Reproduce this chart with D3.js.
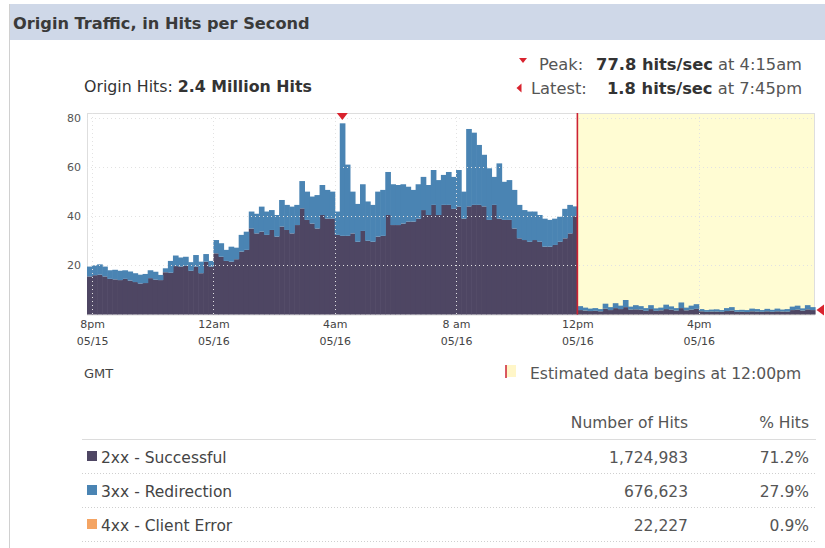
<!DOCTYPE html>
<html>
<head>
<meta charset="utf-8">
<script src="https://cdn.jsdelivr.net/npm/d3@7"></script>
<style>
  body { margin: 0; background: #fff; }
  svg text { font-family: "DejaVu Sans", Verdana, sans-serif; }
</style>
</head>
<body>
<div id="origin-traffic"></div>
<script>

// 10 minute bins, first one starts 7:50pm 05/15 (GMT)
var binStart   = new Date(2011, 4, 15, 19, 50);
var binMinutes = 10;

var hits2xx = [
  15.5, 16, 16.2, 15.5, 14.5, 14.3, 14, 14.5, 13.8, 13.2, 12.6, 12.8,
  14.8, 14.2, 14, 17.2, 17, 19.7, 19.5, 19.8, 17.8, 19.5, 16.8, 21.5,
  19.5, 24.9, 23.5, 21.8, 21.5, 22.5, 25.6, 26.3, 35, 33, 33.7, 32.4,
  34.4, 31.7, 35.8, 34.4, 33, 36.4, 43.2, 38.5, 37, 35, 40.5, 39,
  39, 32.4, 32, 32, 33, 29.6, 34, 30, 29.6, 31.7, 32, 40.5,
  36.4, 36.4, 37, 37.8, 37.8, 39, 42.5, 40.5, 44.6, 40.5, 44.6, 44.6,
  43, 43.9, 39, 44, 44.6, 44.6, 44, 38.5, 44.6, 39, 38.5, 38.5,
  35, 31, 30.3, 29.6, 30.3, 29.6, 27.6, 27.6, 28.3, 29.6, 31, 33,
  40, 1.8, 1.6, 1.4, 1.5, 1.3, 2.4, 1.8, 2.6, 2.2, 3, 2,
  2.1, 2, 1.5, 2.2, 1.5, 1.7, 2.2, 2, 1.6, 2.6, 1.7, 2,
  2.3, 1.3, 1.1, 1.2, 1.2, 1.1, 1.4, 1.6, 1.1, 1.1, 1.0, 1.3,
  1.2, 1.1, 1.3, 1.1, 1.3, 1.2, 1.2, 1.8, 2.0, 1.6, 2.1, 1.8
];

var hits3xx = [
  4.0, 4.0, 4.2, 4.0, 3.5, 3.9, 3.8, 3.5, 3.7, 3.6, 3.6, 3.7,
  3.2, 3.2, 2.1, 1.6, 4.8, 4.3, 3.7, 3.7, 3.5, 4.7, 4.7, 3.1,
  2.3, 5.4, 5.5, 4.5, 6.1, 4.7, 6.8, 7.4, 6.9, 8.0, 10.2, 9.5,
  8.1, 8.8, 10.8, 10.2, 10.9, 8.2, 11.1, 11.5, 11, 13.6, 12.2, 11.7,
  11, 9.5, 45.8, 29, 17, 15.4, 19, 16, 15, 18.3, 18.7, 17.5,
  16.6, 16.3, 16, 14.2, 12.9, 14, 13.5, 12.2, 14.2, 14.2, 12.2, 13.4,
  13, 14.9, 11, 31.5, 29.4, 24.4, 21, 21, 11.4, 22.5, 15.5, 16.2,
  15.7, 13.6, 12.2, 12.3, 11.6, 10.9, 11.4, 10.9, 10.7, 10.2, 12, 11.6,
  4, 1.6, 1.2, 1.0, 1.1, 0.9, 2.0, 1.2, 2.0, 1.4, 2.9, 1.2,
  1.7, 1.4, 1.1, 1.6, 1.0, 1.1, 1.8, 1.3, 1.0, 2.3, 1.1, 1.6,
  1.9, 0.9, 0.7, 0.8, 0.9, 0.7, 1.2, 1.4, 0.7, 0.8, 0.8, 1.1,
  1.0, 0.7, 1.0, 0.8, 1.1, 0.8, 1.0, 1.4, 1.6, 0.9, 1.7, 1.2
];

var estimatedFrom = new Date(2011, 4, 16, 12, 0);

var tickTimes = [
  new Date(2011, 4, 15, 20, 0), new Date(2011, 4, 16, 0, 0), new Date(2011, 4, 16, 4, 0),
  new Date(2011, 4, 16, 8, 0), new Date(2011, 4, 16, 12, 0), new Date(2011, 4, 16, 16, 0)
];
var tickHours = ['8pm', '12am', '4am', '8 am', '12pm', '4pm'];
var tickDates = ['05/15', '05/16', '05/16', '05/16', '05/16', '05/16'];
var yTicks    = [20, 40, 60, 80];

var peakValue   = 77.8;
var peakLabel   = '77.8 hits/sec';
var peakTime    = '4:15am';
var latestValue = 1.8;
var latestLabel = '1.8 hits/sec';
var latestTime  = '7:45pm';
var totalLabel  = '2.4 Million Hits';

var statusNames  = ['2xx - Successful', '3xx - Redirection', '4xx - Client Error'];
var statusHits   = [1724983, 676623, 22227];
var statusPct    = [71.2, 27.9, 0.9];
var statusColors = ['#4e4663', '#4a84b3', '#f4a463'];

var W = 825, H = 548;
var plot = {left: 87, top: 113, right: 815, bottom: 314.5};

var svg = d3.select('#origin-traffic').append('svg')
  .attr('width', W)
  .attr('height', H);

// panel + header band
svg.append('rect')
  .attr('x', 9).attr('y', 4)
  .attr('width', W - 9).attr('height', 36)
  .attr('fill', '#cfd8e8');

svg.append('line')
  .attr('x1', 9.5).attr('x2', 9.5)
  .attr('y1', 4).attr('y2', H)
  .attr('stroke', '#d0d0d0');

svg.append('text')
  .attr('x', 13).attr('y', 29)
  .attr('font-size', 16.2)
  .attr('font-weight', 'bold')
  .attr('fill', '#3a3a3a')
  .text('Origin Traffic, in Hits per Second');

var totalText = svg.append('text')
  .attr('x', 84).attr('y', 92)
  .attr('font-size', 15.8)
  .attr('fill', '#333');
totalText.append('tspan').text('Origin Hits: ');
totalText.append('tspan').attr('font-weight', 'bold').text(totalLabel);

// peak / latest summary
var markerRed = '#d9232e';

svg.append('path')
  .attr('d', 'M519,58L527,58L523,63Z')
  .attr('fill', markerRed);
svg.append('text')
  .attr('x', 539).attr('y', 70)
  .attr('font-size', 16.3).attr('fill', '#555')
  .text('Peak:');
var peakText = svg.append('text')
  .attr('x', 802).attr('y', 70)
  .attr('font-size', 16.3)
  .attr('text-anchor', 'end')
  .attr('fill', '#555');
peakText.append('tspan').attr('font-weight', 'bold').attr('fill', '#333').text(peakLabel);
peakText.append('tspan').text(' at ' + peakTime);

svg.append('path')
  .attr('d', 'M516.5,88L521.5,83.5L521.5,92.5Z')
  .attr('fill', markerRed);
svg.append('text')
  .attr('x', 531).attr('y', 94)
  .attr('font-size', 16.3).attr('fill', '#555')
  .text('Latest:');
var latestText = svg.append('text')
  .attr('x', 802).attr('y', 94)
  .attr('font-size', 16.3)
  .attr('text-anchor', 'end')
  .attr('fill', '#555');
latestText.append('tspan').attr('font-weight', 'bold').attr('fill', '#333').text(latestLabel);
latestText.append('tspan').text(' at ' + latestTime);

// Scales

var bins = hits2xx.map(function(d, i) {
  return {
    time: d3.timeMinute.offset(binStart, i * binMinutes),
    s2xx: d,
    s3xx: hits3xx[i]
  };
});

var binEnd = d3.timeMinute.offset(binStart, bins.length * binMinutes);

var x = d3.scaleTime()
  .domain([binStart, binEnd])
  .range([plot.left, plot.right]);

var y = d3.scaleLinear()
  .domain([0, 82])
  .range([plot.bottom, plot.top]);

var g = svg.append('g');

// estimated area
g.append('rect')
  .attr('x', x(estimatedFrom))
  .attr('y', plot.top)
  .attr('width', plot.right - x(estimatedFrom))
  .attr('height', plot.bottom - plot.top)
  .attr('fill', '#fffcd3');

g.append('rect')
  .attr('x', plot.left + 0.5)
  .attr('y', plot.top + 0.5)
  .attr('width', plot.right - plot.left - 1)
  .attr('height', plot.bottom - plot.top)
  .attr('fill', 'none')
  .attr('stroke', '#dedede');

var stack = d3.stack().keys(['s2xx', 's3xx']);
var layers = stack(bins);

g.selectAll('.layer')
  .data(layers)
.enter().append('g')
  .attr('class', 'layer')
  .attr('fill', function(d, i) { return statusColors[i]; })
.selectAll('rect')
  .data(function(d) { return d; })
.enter().append('rect')
  .attr('x', function(d) { return x(d.data.time); })
  .attr('width', function(d) {
    return x(d3.timeMinute.offset(d.data.time, binMinutes)) - x(d.data.time) + 0.6;
  })
  .attr('y', function(d) { return y(d[1]); })
  .attr('height', function(d) { return y(d[0]) - y(d[1]); });

// dotted grid over the bars
var gridColor = '#e2e2e2';

g.selectAll('.hgrid')
  .data(yTicks)
.enter().append('line')
  .attr('class', 'hgrid')
  .attr('x1', plot.left)
  .attr('x2', plot.right)
  .attr('y1', function(d) { return Math.round(y(d)) + 0.5; })
  .attr('y2', function(d) { return Math.round(y(d)) + 0.5; })
  .attr('stroke', gridColor)
  .attr('stroke-dasharray', '1,3');

g.selectAll('.vgrid')
  .data(tickTimes)
.enter().append('line')
  .attr('class', 'vgrid')
  .attr('x1', function(d) { return Math.round(x(d)) + 0.5; })
  .attr('x2', function(d) { return Math.round(x(d)) + 0.5; })
  .attr('y1', plot.top)
  .attr('y2', plot.bottom)
  .attr('stroke', gridColor)
  .attr('stroke-dasharray', '1,3');

g.append('line')
  .attr('x1', x(estimatedFrom))
  .attr('x2', x(estimatedFrom))
  .attr('y1', plot.top)
  .attr('y2', plot.bottom)
  .attr('stroke', '#cc2233')
  .attr('stroke-width', 1.6);

// Axes

var xAxis = svg.append('g')
  .attr('class', 'x axis')
  .attr('transform', 'translate(0,' + plot.bottom + ')')
  .call(d3.axisBottom(x).tickValues(tickTimes).tickSize(0).tickFormat(''));

xAxis.select('.domain').remove();
xAxis.selectAll('.tick text').remove();
xAxis.selectAll('.tick').append('text')
  .attr('fill', '#444')
  .attr('font-size', 11)
  .attr('text-anchor', 'middle')
  .each(function(d, i) {
    var t = d3.select(this);
    t.append('tspan').attr('x', 0).attr('y', 13).text(tickHours[i]);
    t.append('tspan').attr('x', 0).attr('y', 30).text(tickDates[i]);
  });

var yAxis = svg.append('g')
  .attr('class', 'y axis')
  .attr('transform', 'translate(' + (plot.left - 3) + ',0)')
  .call(d3.axisLeft(y).tickValues(yTicks).tickSize(0));

yAxis.select('.domain').remove();
yAxis.selectAll('.tick text')
  .attr('fill', '#555')
  .attr('font-size', 11)
  .attr('font-family', '"DejaVu Sans", Verdana, sans-serif');

// peak + latest markers on the plot
var peakBin = bins[d3.maxIndex(bins, function(d) { return d.s2xx + d.s3xx; })];
var peakX = x(d3.timeMinute.offset(peakBin.time, binMinutes / 2));

svg.append('path')
  .attr('d', 'M' + (peakX - 5.5) + ',' + plot.top + 'L' + (peakX + 5.5) + ',' + plot.top +
             'L' + peakX + ',' + (plot.top + 7) + 'Z')
  .attr('fill', markerRed);

var latestY = y(latestValue);
svg.append('path')
  .attr('d', 'M' + (plot.right + 1.5) + ',' + latestY + 'L' + (plot.right + 9) + ',' + (latestY - 5.5) +
             'L' + (plot.right + 9) + ',' + (latestY + 5.5) + 'Z')
  .attr('fill', markerRed);

// under the chart
svg.append('text')
  .attr('x', 84).attr('y', 378)
  .attr('font-size', 13)
  .attr('fill', '#444')
  .text('GMT');

svg.append('rect')
  .attr('x', 506).attr('y', 365)
  .attr('width', 10).attr('height', 12)
  .attr('fill', '#fff6c8');
svg.append('line')
  .attr('x1', 506).attr('x2', 506)
  .attr('y1', 365).attr('y2', 378)
  .attr('stroke', '#cc2233')
  .attr('stroke-width', 1.5);
svg.append('text')
  .attr('x', 530).attr('y', 379)
  .attr('font-size', 15.6)
  .attr('fill', '#555')
  .text('Estimated data begins at ' + '12:00pm');

// status table
var colHits = 688, colPct = 809, rowTop = 457, rowStep = 34;

svg.append('text')
  .attr('x', colHits).attr('y', 428)
  .attr('text-anchor', 'end')
  .attr('font-size', 15.5).attr('fill', '#555')
  .text('Number of Hits');
svg.append('text')
  .attr('x', colPct).attr('y', 428)
  .attr('text-anchor', 'end')
  .attr('font-size', 15.5).attr('fill', '#555')
  .text('% Hits');

svg.append('line')
  .attr('x1', 82).attr('x2', 816)
  .attr('y1', 439.5).attr('y2', 439.5)
  .attr('stroke', '#dcdcdc');

var rows = svg.selectAll('.status-row')
  .data(statusNames)
.enter().append('g')
  .attr('class', 'status-row')
  .attr('transform', function(d, i) { return 'translate(0,' + (rowTop + i * rowStep) + ')'; });

rows.append('rect')
  .attr('x', 87).attr('y', -6)
  .attr('width', 10).attr('height', 10)
  .attr('fill', function(d, i) { return statusColors[i]; });

rows.append('text')
  .attr('x', 101).attr('y', 5.5)
  .attr('font-size', 15.5).attr('fill', '#444')
  .text(function(d) { return d; });

rows.append('text')
  .attr('x', colHits).attr('y', 5.5)
  .attr('text-anchor', 'end')
  .attr('font-size', 15.5).attr('fill', '#555')
  .text(function(d, i) { return d3.format(',')(statusHits[i]); });

rows.append('text')
  .attr('x', colPct).attr('y', 5.5)
  .attr('text-anchor', 'end')
  .attr('font-size', 15.5).attr('fill', '#555')
  .text(function(d, i) { return statusPct[i].toFixed(1) + '%'; });

rows.append('line')
  .attr('x1', 82).attr('x2', 816)
  .attr('y1', 16.5).attr('y2', 16.5)
  .attr('stroke', '#cfcfcf')
  .attr('stroke-dasharray', '1,2');

</script>
</body>
</html>
